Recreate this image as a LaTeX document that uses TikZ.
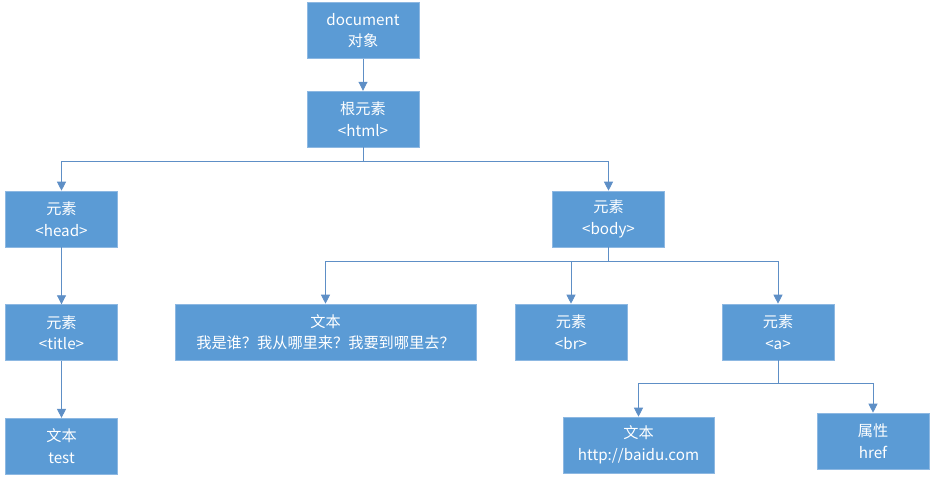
\documentclass[tikz,border=0pt]{standalone}
\usepackage{fontspec}
\setmainfont{Noto Sans CJK SC}
\usepackage{tikz}
\usetikzlibrary{arrows.meta,positioning}
\definecolor{boxblue}{HTML}{5B9BD5}
\definecolor{boxedge}{HTML}{8DB8E2}
\definecolor{linkblue}{HTML}{5E8FC6}

\begin{document}
\begin{tikzpicture}[
  x=1pt, y=-1pt,
  font=\fontsize{15.2}{21.5}\selectfont,
  box/.style={draw=boxedge, fill=boxblue, text=white, align=center, minimum width=112pt, minimum height=56pt, inner sep=2pt, line width=0.6pt},
  arr/.style={-{Triangle[length=9pt,width=9pt]}, line width=0.9pt, draw=linkblue}
]
\useasboundingbox (0,0) rectangle (935,481);
\node[box] (doc) at (363,30.5) {document\\对象};
\node[box, below=32pt of doc] (html) {根元素\\<html>};
\node[box] (head) at (61.5,219) {元素\\<head>};
\node[box] (body) at (608.5,219) {元素\\<body>};
\node[box, below=57pt of head] (title) {元素\\<title>};
\node[box, below=57pt of title] (test) {文本\\test};
\node[box, minimum width=301pt] (txt) at (325.5,332) {文本\\我是谁？我从哪里来？我要到哪里去？};
\node[box] (br) at (571,332) {元素\\<br>};
\node[box] (a) at (778,332) {元素\\<a>};
\node[box, minimum width=151pt] (link) at (638.5,445) {文本\\http://baidu.com};
\node[box] (href) at (873,441) {属性\\href};
\draw[arr] (doc) -- (html);
\draw[arr] (html.south) -- ++(0,14) -| (head.north);
\draw[arr] (html.south) -- ++(0,14) -| (body.north);
\draw[arr] (head) -- (title);
\draw[arr] (title) -- (test);
\draw[arr] (body.south) -- ++(0,14) -| (txt.north);
\draw[arr] (body.south) -- ++(0,14) -| (br.north);
\draw[arr] (body.south) -- ++(0,14) -| (a.north);
\draw[arr] (a.south) -- ++(0,23) -| (link.north);
\draw[arr] (a.south) -- ++(0,23) -| (href.north);
\end{tikzpicture}
\end{document}
